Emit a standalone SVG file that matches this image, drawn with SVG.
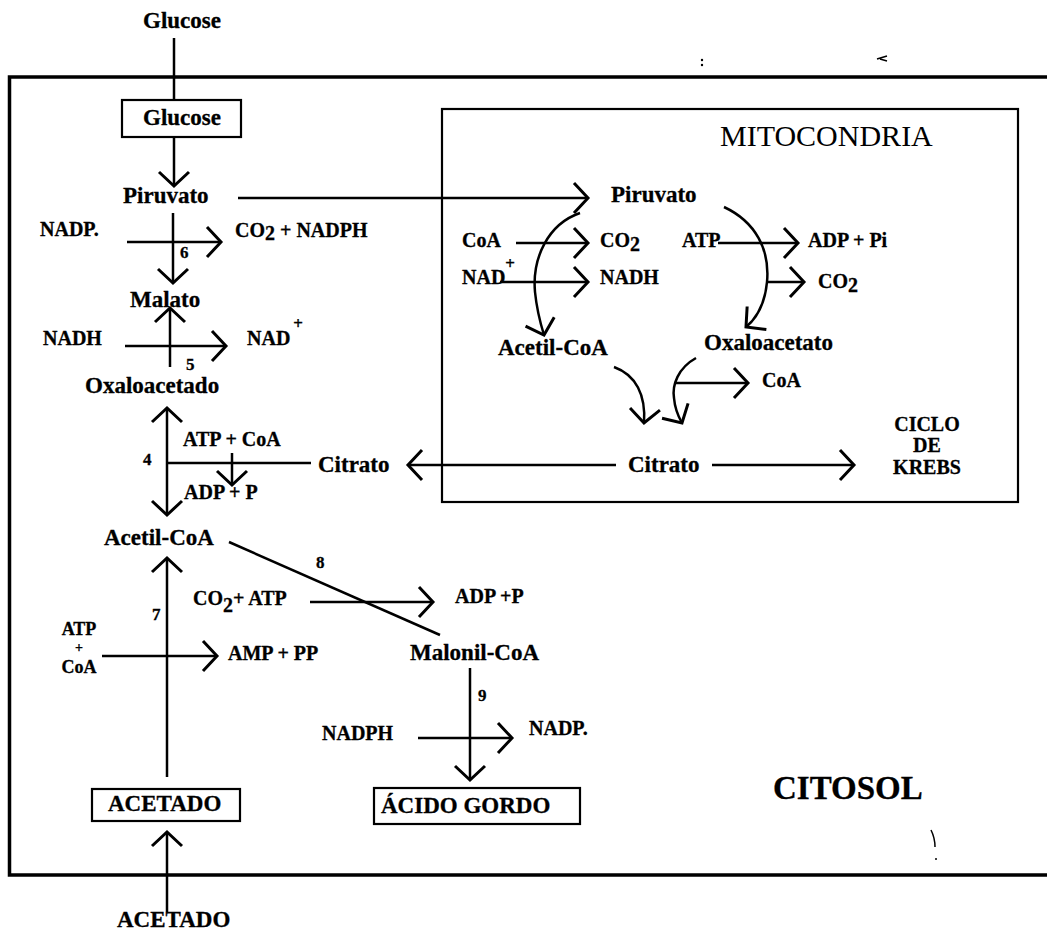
<svg xmlns="http://www.w3.org/2000/svg" width="1047" height="931" viewBox="0 0 1047 931">
<defs>
<style>
text{font-family:"Liberation Serif","Times New Roman",serif;font-weight:bold;fill:#000;stroke:#000;stroke-width:0.3}
.m{font-size:23px}
.c{font-size:20px}
.n{font-size:17px}
.big{font-size:33px}
.reg{font-weight:normal;font-size:30px;stroke-width:0}
.ln{stroke:#000;stroke-width:2.5;fill:none}
.box{fill:none;stroke:#000;stroke-width:2.2}
.arr{marker-end:url(#ah)}
.mk{stroke:#000;stroke-width:1.5;fill:none}
</style>
<marker id="ah" markerUnits="userSpaceOnUse" viewBox="-18 -18 20 36" refX="0" refY="0" markerWidth="20" markerHeight="36" orient="auto" overflow="visible">
<path d="M-14,-15 L0,0 L-14,15" fill="none" stroke="#000" stroke-width="3"/>
</marker>
</defs>
<rect width="1047" height="931" fill="#fff"/>

<g id="citosol-compartment">
<path d="M1047,77 H9.5 V875 H1047" fill="none" stroke="#000" stroke-width="3.5"/>
<text class="big" x="773" y="799">CITOSOL</text>
</g>
<g id="mitocondria-compartment">
<rect x="442" y="109" width="576" height="393" class="box"/>
<text class="reg" x="720" y="146">MITOCONDRIA</text>
</g>

<g id="connectors">
<path class="ln" d="M174,38 V100"/>
<path class="ln arr" d="M174,137 V186"/>
<path class="ln arr" d="M238,198 H588"/>
<path class="ln arr" d="M127,242 H221"/>
<path class="ln arr" d="M173,213 V283"/>
<path class="ln arr" d="M125,346 H226"/>
<path class="ln arr" d="M170,367 V308"/>
<path class="ln arr" d="M167,463 V408"/>
<path class="ln arr" d="M167,463 V515"/>
<path class="ln" d="M167,463 H311"/>
<path class="ln arr" d="M232,453 V485"/>
<path class="ln arr" d="M616,465 H408"/>
<path class="ln arr" d="M712,465 H854"/>
<path class="ln" d="M229,542 L440,635" stroke-width="3"/>
<path class="ln arr" d="M310,602 H433"/>
<path class="ln arr" d="M167,777 V558"/>
<path class="ln arr" d="M102,656 H217"/>
<path class="ln arr" d="M470,668 V780"/>
<path class="ln arr" d="M418,738 H512"/>
<path class="ln arr" d="M167,912 V832"/>
<path class="ln arr" d="M516,243 H588"/>
<path class="ln arr" d="M718,243 H798"/>
<path class="ln arr" d="M500,282 H588"/>
<path class="ln arr" d="M766,282 H804"/>
<path class="ln arr" d="M580,213 C548,224 532,258 535,292 C537,312 540,322 544,335"/>
<path class="ln arr" d="M724,207 C756,222 770,250 767,282 C765,303 758,317 746,327"/>
<path class="ln arr" d="M614,367 C636,375 646,395 644,423"/>
<path class="ln arr" d="M696,358 C678,368 672,385 674,398 C675,410 678,416 682,423"/>
<path class="ln arr" d="M676,383 H748"/>
</g>

<g id="glucose-ext"><text class="m" x="143" y="28">Glucose</text></g>
<g id="glucose"><rect x="122" y="100" width="119" height="37" class="box"/><text class="m" x="143" y="125">Glucose</text></g>
<g id="piruvato-cit"><text class="m" x="123" y="203">Piruvato</text></g>
<g id="r6"><text class="c" x="40" y="236">NADP.</text><text class="c" x="235" y="237">CO<tspan dy="3">2</tspan><tspan dy="-3"> + NADPH</tspan></text><text class="n" x="180" y="258">6</text></g>
<g id="malato"><text class="m" x="130" y="307">Malato</text></g>
<g id="r5"><text class="c" x="43" y="345">NADH</text><text class="c" x="247" y="345">NAD<tspan dx="3" dy="-16" font-size="17">+</tspan></text><text class="n" x="186" y="370">5</text></g>
<g id="oxaloacetado"><text class="m" x="85" y="393">Oxaloacetado</text></g>
<g id="r4"><text class="c" x="183" y="446">ATP + CoA</text><text class="n" x="143" y="465">4</text><text class="c" x="184" y="499">ADP + P</text></g>
<g id="citrato-cit"><text class="m" x="318" y="472">Citrato</text></g>
<g id="acetil-coa-cit"><text class="m" x="104" y="545">Acetil-CoA</text></g>
<g id="r8"><text class="n" x="316" y="568">8</text><text class="c" x="193" y="605">CO<tspan dy="7">2</tspan><tspan dy="-7">+ ATP</tspan></text><text class="c" x="455" y="603">ADP +P</text></g>
<g id="r7"><text class="n" x="152" y="620">7</text><text x="79" y="635" text-anchor="middle" font-size="18">ATP</text><text x="79" y="652" text-anchor="middle" font-size="14">+</text><text x="79" y="673" text-anchor="middle" font-size="18">CoA</text><text class="c" x="228" y="660">AMP + PP</text></g>
<g id="malonil-coa"><text class="m" x="410" y="660">Malonil-CoA</text></g>
<g id="r9"><text class="n" x="478" y="701">9</text><text class="c" x="322" y="740">NADPH</text><text class="c" x="529" y="735">NADP.</text></g>
<g id="acido-gordo"><rect x="374" y="788" width="206" height="36" class="box"/><text class="m" x="381" y="813" font-size="24">ÁCIDO GORDO</text></g>
<g id="acetado"><rect x="92" y="789" width="148" height="32" class="box"/><text class="m" x="108" y="811">ACETADO</text></g>
<g id="acetado-ext"><text class="m" x="117" y="927">ACETADO</text></g>

<g id="piruvato-mit"><text class="m" x="611" y="202">Piruvato</text></g>
<g id="pdh"><text class="c" x="462" y="247">CoA</text><text class="c" x="600" y="247">CO<tspan dy="4">2</tspan></text><text class="c" x="462" y="284">NAD<tspan dy="-15" font-size="17">+</tspan></text><text class="c" x="600" y="284">NADH</text></g>
<g id="pc"><text class="c" x="682" y="247">ATP</text><text class="c" x="808" y="247">ADP + Pi</text><text class="c" x="818" y="288">CO<tspan dy="4">2</tspan></text></g>
<g id="acetil-coa-mit"><text class="m" x="498" y="355">Acetil-CoA</text></g>
<g id="oxaloacetato-mit"><text class="m" x="704" y="350">Oxaloacetato</text></g>
<g id="cs"><text class="c" x="762" y="387">CoA</text></g>
<g id="citrato-mit"><text class="m" x="628" y="472">Citrato</text></g>
<g id="krebs"><text class="c" x="927" y="431" text-anchor="middle">CICLO</text><text class="c" x="927" y="452" text-anchor="middle">DE</text><text class="c" x="927" y="474" text-anchor="middle">KREBS</text></g>

<g id="scan-marks">
<circle cx="702" cy="60" r="1.2"/><circle cx="702" cy="65" r="1.2"/>
<path class="mk" d="M877,59 L887,56 M880,59 L887,61"/>
<path class="mk" d="M931,830 Q935,838 935,847"/>
<circle cx="936" cy="859" r="1"/>
</g>
</svg>
